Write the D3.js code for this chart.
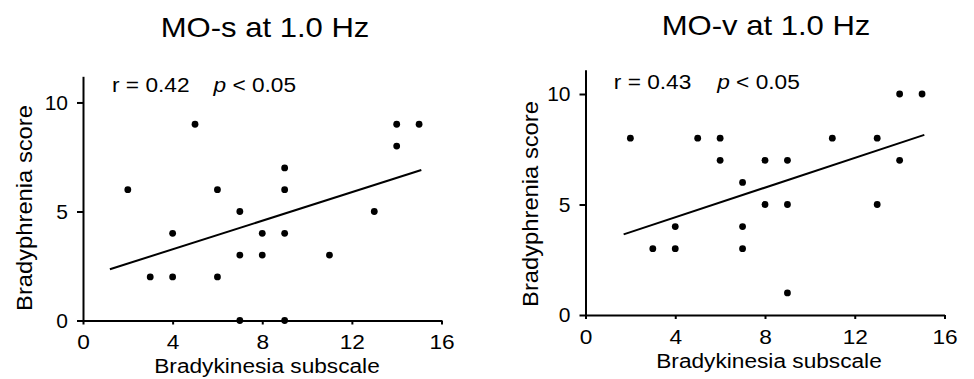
<!DOCTYPE html>
<html>
<head>
<meta charset="utf-8">
<style>
  body { margin: 0; background: #fff; }
  svg { display: block; }
  text { font-family: "Liberation Sans", Arial, sans-serif; fill: #000; }
</style>
</head>
<body>
<div id="chart-area"></div>
<script src="https://cdn.jsdelivr.net/npm/d3@7/dist/d3.min.js"></script>
<script>
    // ticks shared by both panels
    var xTicks = [0, 4, 8, 12, 16];
    var yTicks = [0, 5, 10];

    // MO-s panel
    var sX = [2, 5, 3, 4, 4, 6, 6, 7, 7, 7, 8, 8, 9, 9, 9, 9, 11, 13, 14, 14, 15];
    var sY = [6, 9, 2, 2, 4, 6, 2, 5, 3, 0, 4, 3, 7, 6, 4, 0, 3, 5, 8, 9, 9];
    var sFitX = [1.2, 15.1];
    var sFitY = [2.35, 6.9];

    // MO-v panel
    var vX = [2, 3, 4, 4, 5, 6, 6, 7, 7, 7, 8, 8, 9, 9, 9, 11, 13, 13, 14, 14, 15];
    var vY = [8, 3, 3, 4, 8, 8, 7, 6, 4, 3, 7, 5, 7, 5, 1, 8, 8, 5, 10, 7, 10];
    var vFitX = [1.7, 15.1];
    var vFitY = [3.65, 8.15];

    var titles = ["MO-s at 1.0 Hz", "MO-v at 1.0 Hz"];
    var rLabels = ["r = 0.42", "r = 0.43"];
    var pLabel = "< 0.05";
    var xTitle = "Bradykinesia subscale";
    var yTitle = "Bradyphrenia score";

    var width = 974, height = 379;

    var svg = d3.select("#chart-area")
        .append("svg")
            .attr("width", width)
            .attr("height", height);

    function stretched(g, x, y, sx, size, str) {
        return g.append("text")
            .attr("transform", "translate(" + x + "," + y + ") scale(" + sx + ",1)")
            .attr("font-size", size + "px")
            .text(str);
    }

    function drawPanel(p) {
        var x = d3.scaleLinear().domain([0, 16]).range(p.xr);
        var y = d3.scaleLinear().domain([0, p.yTop]).range(p.yr);

        var g = svg.append("g");

        // x axis
        var xa = g.append("g")
            .attr("transform", "translate(0," + y(0) + ")")
            .call(d3.axisBottom(x).tickValues(xTicks).tickSize(4).tickSizeOuter(0).tickPadding(10));
        // y axis
        var ya = g.append("g")
            .attr("transform", "translate(" + x(0) + ",0)")
            .call(d3.axisLeft(y).tickValues(yTicks).tickSize(6).tickSizeOuter(0).tickPadding(9));

        [xa, ya].forEach(function(a) {
            a.select(".domain").attr("stroke", "#000").attr("stroke-width", 2);
            a.selectAll(".tick line").attr("stroke", "#000").attr("stroke-width", 2);
            a.selectAll(".tick text")
                .attr("font-size", "21px")
                .attr("font-family", "'Liberation Sans', Arial, sans-serif")
                .attr("fill", "#000");
        });
        xa.selectAll(".tick text").attr("transform", "scale(1.08,1)");

        // regression line
        var line = d3.line().x(function(d) { return x(d[0]); }).y(function(d) { return y(d[1]); });
        g.append("path")
            .datum(d3.zip(p.fitX, p.fitY))
            .attr("d", line)
            .attr("fill", "none")
            .attr("stroke", "#000")
            .attr("stroke-width", 2);

        // points
        g.selectAll("circle")
            .data(d3.zip(p.xs, p.ys))
            .enter()
            .append("circle")
            .attr("cx", function(d) { return x(d[0]); })
            .attr("cy", function(d) { return y(d[1]); })
            .attr("r", 3.4)
            .attr("fill", "#000");

        // title
        stretched(g, p.titleX, p.titleY, 1.15, 27, p.title).attr("text-anchor", "middle");

        // r and p
        stretched(g, x(0) + p.rDx, p.rY, 1.08, 21, p.r);
        var pt = stretched(g, x(0) + p.pDx, p.rY, 1.08, 21, "");
        pt.append("tspan").attr("font-style", "italic").text("p");
        pt.append("tspan").text(" " + pLabel);

        // axis titles
        stretched(g, p.xTitleX, y(0) + 52.5, 1.08, 21, xTitle).attr("text-anchor", "middle");
        g.append("text")
            .attr("transform", "translate(" + p.yTitleX + "," + p.yTitleY + ") rotate(-90) scale(1.08,1)")
            .attr("font-size", "22px")
            .attr("text-anchor", "middle")
            .text(yTitle);
    }

    drawPanel({
        xs: sX, ys: sY, fitX: sFitX, fitY: sFitY,
        xr: [83, 441.5], yTop: 11.2, yr: [320.5, 76.3],
        title: titles[0], titleX: 265, titleY: 36.5,
        r: rLabels[0], rDx: 29, pDx: 130.5, rY: 91.5,
        xTitleX: 267,
        yTitleX: 31.5, yTitleY: 208
    });

    drawPanel({
        xs: vX, ys: vY, fitX: vFitX, fitY: vFitY,
        xr: [585.5, 944.5], yTop: 11.1, yr: [315, 69.7],
        title: titles[1], titleX: 766, titleY: 35,
        r: rLabels[1], rDx: 28.3, pDx: 131.7, rY: 89.3,
        xTitleX: 769,
        yTitleX: 538, yTitleY: 204
    });
</script>
</body>
</html>
